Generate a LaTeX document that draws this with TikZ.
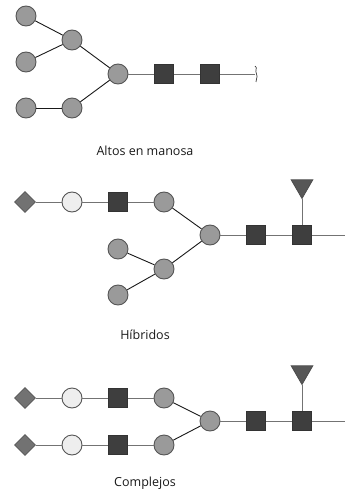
\documentclass[tikz,border=0pt]{standalone}
\usepackage{fontspec}
\setmainfont{Open Sans}
\usetikzlibrary{shapes.geometric}
\definecolor{mangray}{HTML}{9A9A9A}
\definecolor{galwhite}{HTML}{EEEEEE}
\definecolor{glcnac}{HTML}{3E3E3E}
\definecolor{sialic}{HTML}{727272}
\definecolor{fucose}{HTML}{575757}
\definecolor{edgegray}{HTML}{555555}
\begin{document}
\begin{tikzpicture}[x=1pt,y=-1pt,
  man/.style={circle,draw=edgegray,fill=mangray,line width=0.9pt,minimum size=20pt,inner sep=0pt},
  gal/.style={circle,draw=edgegray,fill=galwhite,line width=0.9pt,minimum size=20pt,inner sep=0pt},
  nag/.style={rectangle,draw=black!80,fill=glcnac,line width=0.9pt,minimum size=19pt,inner sep=0pt},
  sia/.style={diamond,draw=edgegray,fill=sialic,line width=0.8pt,minimum size=21pt,inner sep=0pt},
  fuc/.style={regular polygon,regular polygon sides=3,shape border rotate=180,draw=black!70,fill=fucose,line width=0.8pt,minimum size=25pt,inner sep=0pt},
  bond/.style={line width=0.9pt,black!90},
  link/.style={line width=0.9pt,black!55},
  caption/.style={font=\fontsize{12.5}{14}\selectfont,text=black!90}]
\useasboundingbox (0,0) rectangle (345,492);

% High-mannose
\node[man] (a1) at (26,16) {};
\node[man] (a2) at (26,62) {};
\node[man] (a3) at (26,108) {};
\node[man] (a4) at (72,40) {};
\node[man] (a5) at (72,108) {};
\node[man] (a6) at (118,74) {};
\node[nag] (a7) at (164,74) {};
\node[nag] (a8) at (210,74) {};
\coordinate (aend) at (255,74);
\draw[bond] (a1) -- (a4);
\draw[bond] (a2) -- (a4);
\draw[bond] (a4) -- (a6);
\draw[bond] (a3) -- (a5);
\draw[bond] (a5) -- (a6);
\draw[link] (a6) -- (a7);
\draw[link] (a7) -- (a8);
\draw[link] (a8) -- (aend);
\draw[line width=0.7pt,black!80] (aend) ++(0,-8) .. controls +(3,2) and +(-2,-4) .. ++(1.5,8) .. controls +(2,4) and +(-1,-3) .. ++(-0.5,8);
\node[caption] (ta) at (145,151) {Altos en manosa};

% Hybrid
\node[sia] (b1) at (25,202) {};
\node[gal] (b2) at (72,202) {};
\node[nag] (b3) at (118,202) {};
\node[man] (b4) at (164,202) {};
\node[man] (b5) at (118,249) {};
\node[man] (b6) at (164,269) {};
\node[man] (b7) at (118,295) {};
\node[man] (b8) at (210,235) {};
\node[nag] (b9) at (256,235) {};
\node[nag] (b10) at (302,235) {};
\node[fuc] (b11) at (302,186) {};
\coordinate (bend) at (345,235);
\draw[link] (b1) -- (b2);
\draw[link] (b2) -- (b3);
\draw[link] (b3) -- (b4);
\draw[bond] (b4) -- (b8);
\draw[bond] (b5) -- (b6);
\draw[bond] (b7) -- (b6);
\draw[bond] (b6) -- (b8);
\draw[link] (b8) -- (b9);
\draw[link] (b9) -- (b10);
\draw[link] (b10) -- (bend);
\draw[link] (b11) -- (b10);
\node[caption] (tb) at (145,335) {Híbridos};

% Complex
\node[sia] (c1) at (25,398) {};
\node[gal] (c2) at (72,398) {};
\node[nag] (c3) at (118,398) {};
\node[man] (c4) at (164,398) {};
\node[sia] (c5) at (25,445) {};
\node[gal] (c6) at (72,445) {};
\node[nag] (c7) at (118,445) {};
\node[man] (c8) at (164,445) {};
\node[man] (c9) at (210,421) {};
\node[nag] (c10) at (256,421) {};
\node[nag] (c11) at (302,421) {};
\node[fuc] (c12) at (302,372) {};
\coordinate (cend) at (345,421);
\draw[link] (c1) -- (c2);
\draw[link] (c2) -- (c3);
\draw[link] (c3) -- (c4);
\draw[link] (c5) -- (c6);
\draw[link] (c6) -- (c7);
\draw[link] (c7) -- (c8);
\draw[bond] (c4) -- (c9);
\draw[bond] (c8) -- (c9);
\draw[link] (c9) -- (c10);
\draw[link] (c10) -- (c11);
\draw[link] (c11) -- (cend);
\draw[link] (c12) -- (c11);
\node[caption] (tc) at (145,483) {Complejos};
\end{tikzpicture}
\end{document}
